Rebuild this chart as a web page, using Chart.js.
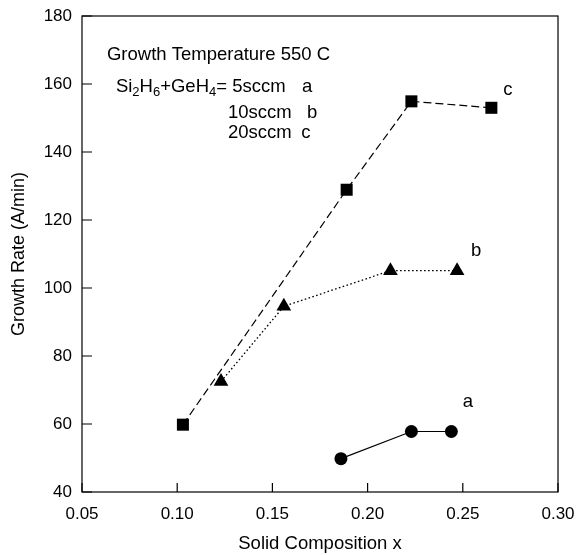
<!DOCTYPE html>
<html>
<head>
<meta charset="utf-8">
<script src="https://cdn.jsdelivr.net/npm/chart.js@4.4.1/dist/chart.umd.min.js"></script>
<style>
  html, body { margin: 0; padding: 0; background: #fff; }
  #wrap { width: 576px; height: 555px; }
</style>
</head>
<body>
<div id="wrap"><canvas id="growthChart"></canvas></div>
<script>
// Data
const xTicks = [0.05, 0.10, 0.15, 0.20, 0.25, 0.30];
const yTicks = [40, 60, 80, 100, 120, 140, 160, 180];

// a: 5 sccm
const xA = [0.186, 0.223, 0.244];
const yA = [49.8, 57.8, 57.8];
// b: 10 sccm
const xB = [0.123, 0.156, 0.212, 0.247];
const yB = [72.5, 94.6, 105.1, 105.1];
// c: 20 sccm
const xC = [0.103, 0.189, 0.223, 0.265];
const yC = [59.8, 128.9, 154.9, 153.0];

const FONT = '"Liberation Sans", Arial, sans-serif';

function toPoints(xs, ys) {
  return xs.map((x, i) => ({ x: x, y: ys[i] }));
}

// frame, inward ticks and in-plot text
const framePlugin = {
  id: 'frame',
  afterDraw(chart) {
    const ctx = chart.ctx;
    const a = chart.chartArea;
    const sx = chart.scales.x;
    const sy = chart.scales.y;
    ctx.save();
    ctx.strokeStyle = '#000';
    ctx.lineWidth = 1.2;
    ctx.strokeRect(a.left, a.top, a.right - a.left, a.bottom - a.top);

    ctx.beginPath();
    xTicks.forEach(v => {
      const px = sx.getPixelForValue(v);
      ctx.moveTo(px, a.bottom);
      ctx.lineTo(px, a.bottom - 9);
    });
    yTicks.forEach(v => {
      const py = sy.getPixelForValue(v);
      ctx.moveTo(a.left, py);
      ctx.lineTo(a.left + 10, py);
    });
    ctx.stroke();

    ctx.fillStyle = '#000';
    ctx.textBaseline = 'middle';
    ctx.textAlign = 'left';
    const big = '18.5px ' + FONT;
    const small = '13px ' + FONT;
    const X = v => sx.getPixelForValue(v);
    const Y = v => sy.getPixelForValue(v);

    ctx.font = big;
    ctx.fillText('Growth Temperature 550 C', X(0.0631), Y(168.5));

    // Si2H6+GeH4 with subscripts
    let cx = X(0.0678);
    const cy = Y(159.1);
    const parts = [['Si', 0], ['2', 1], ['H', 0], ['6', 1], ['+GeH', 0], ['4', 1], ['= 5sccm', 0]];
    parts.forEach(p => {
      ctx.font = p[1] ? small : big;
      ctx.fillText(p[0], cx, p[1] ? cy + 5 : cy);
      cx += ctx.measureText(p[0]).width;
    });
    ctx.font = big;
    ctx.fillText('a', X(0.1655), Y(159.1));
    ctx.fillText('10sccm', X(0.1267), Y(151.5));
    ctx.fillText('b', X(0.1682), Y(151.5));
    ctx.fillText('20sccm', X(0.1267), Y(145.6));
    ctx.fillText('c', X(0.1652), Y(145.6));

    // series labels
    ctx.textAlign = 'center';
    ctx.fillText('c', X(0.2737), Y(158.2));
    ctx.fillText('b', X(0.2570), Y(110.9));
    ctx.fillText('a', X(0.2527), Y(66.5));
    ctx.restore();
  }
};

new Chart(document.getElementById('growthChart'), {
  type: 'scatter',
  data: {
    datasets: [
      {
        label: '5sccm',
        data: toPoints(xA, yA),
        showLine: true,
        borderColor: '#000',
        backgroundColor: '#000',
        borderWidth: 1.2,
        pointStyle: 'circle',
        pointRadius: 6.5,
        pointBorderWidth: 0
      },
      {
        label: '10sccm',
        data: toPoints(xB, yB),
        showLine: true,
        borderColor: '#000',
        backgroundColor: '#000',
        borderWidth: 1.3,
        borderDash: [1.6, 2.4],
        pointStyle: 'triangle',
        pointRadius: 8.5,
        pointBorderWidth: 0
      },
      {
        label: '20sccm',
        data: toPoints(xC, yC),
        showLine: true,
        borderColor: '#000',
        backgroundColor: '#000',
        borderWidth: 1.2,
        borderDash: [8, 4],
        pointStyle: 'rect',
        pointRadius: 8.5,
        pointBorderWidth: 0
      }
    ]
  },
  options: {
    responsive: true,
    maintainAspectRatio: false,
    animation: false,
    layout: { padding: { top: 16, right: 18, left: 0, bottom: 0 } },
    plugins: {
      legend: { display: false },
      tooltip: { enabled: false }
    },
    scales: {
      x: {
        type: 'linear',
        min: 0.05,
        max: 0.30,
        grid: { display: false, drawTicks: false },
        border: { display: false },
        afterBuildTicks: s => { s.ticks = xTicks.map(v => ({ value: v })); },
        afterFit: s => { s.height = 63; s.paddingLeft = 0; s.paddingRight = 0; },
        ticks: {
          color: '#000',
          padding: 12,
          maxRotation: 0,
          font: { family: FONT, size: 17 },
          callback: v => v.toFixed(2)
        },
        title: {
          display: true,
          text: 'Solid Composition x',
          color: '#000',
          padding: { top: 0, bottom: 0 },
          font: { family: FONT, size: 18.5 }
        }
      },
      y: {
        type: 'linear',
        min: 40,
        max: 180,
        grid: { display: false, drawTicks: false },
        border: { display: false },
        afterBuildTicks: s => { s.ticks = yTicks.map(v => ({ value: v })); },
        afterFit: s => { s.width = 82; s.paddingTop = 0; s.paddingBottom = 0; },
        ticks: {
          color: '#000',
          padding: 10,
          font: { family: FONT, size: 17 }
        },
        title: {
          display: true,
          text: 'Growth Rate (A/min)',
          color: '#000',
          padding: { top: 8, bottom: 0 },
          font: { family: FONT, size: 18 }
        }
      }
    }
  },
  plugins: [framePlugin]
});
</script>
</body>
</html>
